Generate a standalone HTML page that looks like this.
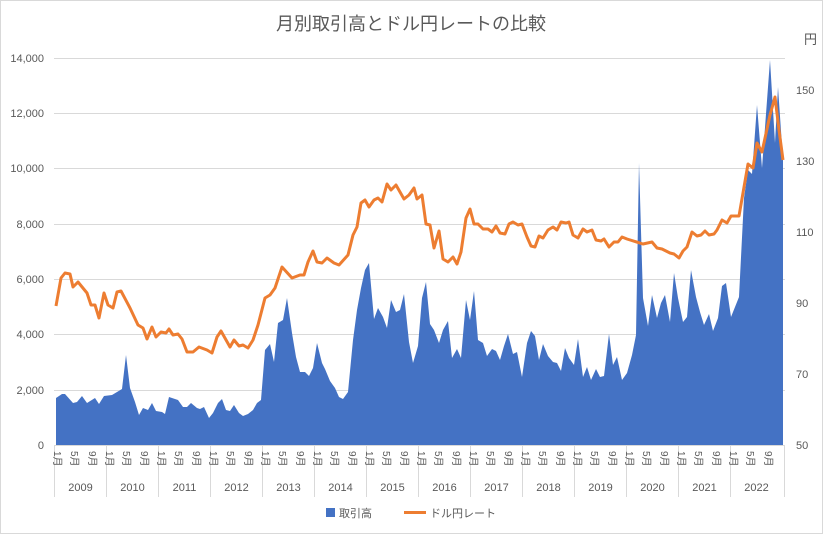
<!DOCTYPE html>
<html><head><meta charset="utf-8"><style>
body{margin:0;background:#fff}
svg text{font-family:"Liberation Sans","Noto Sans CJK JP",sans-serif;fill:#595959}
</style></head><body>
<svg width="823" height="534" viewBox="0 0 823 534" xmlns="http://www.w3.org/2000/svg">
<rect x="0.5" y="0.5" width="822" height="533" fill="#fff" stroke="#d9d9d9"/>
<text x="411" y="30" font-size="18" text-anchor="middle">月別取引高とドル円レートの比較</text>
<g stroke="#d9d9d9" stroke-width="1">
<line x1="54" y1="58.5" x2="785" y2="58.5"/><line x1="54" y1="113.5" x2="785" y2="113.5"/>
<line x1="54" y1="168.5" x2="785" y2="168.5"/><line x1="54" y1="224.5" x2="785" y2="224.5"/>
<line x1="54" y1="279.5" x2="785" y2="279.5"/><line x1="54" y1="334.5" x2="785" y2="334.5"/>
<line x1="54" y1="390.5" x2="785" y2="390.5"/>
</g>
<g font-size="11" text-anchor="end">
<text x="44" y="449">0</text><text x="44" y="394">2,000</text><text x="44" y="338">4,000</text>
<text x="44" y="283">6,000</text><text x="44" y="228">8,000</text><text x="44" y="172">10,000</text>
<text x="44" y="117">12,000</text><text x="44" y="62">14,000</text>
</g>
<g font-size="11">
<text x="796" y="449">50</text><text x="796" y="378">70</text><text x="796" y="307">90</text>
<text x="796" y="236">110</text><text x="796" y="165">130</text><text x="796" y="94">150</text>
<text x="804" y="44" font-size="13">円</text>
</g>
<polygon fill="#4472c4" points="56,445 56,398 62,394 65,394 73,403 77,402 82,396 87,403 95,398 99,404 104,396 112,395 122,389 126,355 130,388 135,402 139,415 143,408 148,410 152,403 156,411 162,412 165,414 169,397 178,400 183,407 187,407 191,403 197,408 200,409 204,407 209,418 213,413 218,403 222,399 226,410 230,411 234,405 239,413 243,416 248,414 253,410 257,403 261,400 265,350 270,344 274,362 278,323 283,320 287,298 292,333 296,357 300,372 305,372 309,376 313,368 317,343 322,363 325,369 330,381 335,388 339,397 343,399 348,392 353,340 357,310 361,288 365,270 369,263 374,319 378,308 383,317 387,328 391,300 396,312 400,310 404,294 409,342 413,363 418,346 422,298 426,282 430,324 434,330 439,343 443,330 448,321 452,358 457,349 461,358 466,300 470,320 474,291 478,340 483,343 487,356 492,349 496,351 500,360 504,346 508,334 513,354 517,352 522,377 527,343 531,331 535,336 539,360 543,344 548,356 553,362 557,363 561,371 565,348 569,358 574,365 578,339 583,377 587,367 591,380 596,369 600,377 604,376 609,334 613,365 617,357 622,380 627,373 632,355 636,335 639,163 643,298 648,326 652,295 657,318 661,303 665,295 670,322 674,273 678,298 683,322 687,317 691,270 696,297 700,312 704,325 709,314 713,331 718,318 722,286 726,283 731,317 739,297 744,198 748,170 752,174 757,105 762,168 770,60 775,143 778,87 783,160 783,445"/>
<polyline fill="none" stroke="#ed7d31" stroke-width="3" stroke-linejoin="round" points="56,306 61,278 65,273 70,274 73,287 78,282 87,293 91,305 95,305 99,318 104,293 108,305 113,308 117,292 121,291 130,308 138,325 143,328 147,339 152,327 156,337 161,332 166,333 169,329 173,335 178,334 182,339 187,352 193,352 199,347 207,350 212,353 217,337 221,331 230,347 234,340 239,346 243,345 248,348 253,340 258,325 265,298 270,295 275,288 282,267 292,278 300,275 304,275 308,262 313,251 317,262 322,263 327,258 334,263 339,265 348,255 353,235 357,227 361,203 365,200 369,207 374,200 378,198 382,202 387,184 391,190 396,185 404,199 409,195 414,188 417,199 422,195 426,224 430,225 434,248 439,231 443,259 448,262 453,257 457,264 461,252 466,218 470,209 474,224 478,224 483,229 488,229 492,232 496,226 500,233 505,234 509,224 513,222 518,225 522,224 527,237 531,246 535,247 539,236 543,238 548,230 553,227 557,230 561,222 566,223 569,222 573,235 578,238 583,229 587,232 592,230 596,240 601,241 604,239 609,247 614,242 618,242 622,237 627,239 643,244 652,242 657,248 662,249 670,253 674,254 679,258 683,251 687,247 692,232 697,236 701,235 705,231 709,235 714,234 717,230 722,220 727,223 731,216 739,216 748,164 753,168 757,143 762,152 770,115 775,97 779,130 783,160"/>
<line x1="54" y1="445.5" x2="785" y2="445.5" stroke="#d9d9d9"/>
<g stroke="#d9d9d9">
<line x1="54.5" y1="445" x2="54.5" y2="497"/><line x1="106.5" y1="445" x2="106.5" y2="497"/>
<line x1="158.5" y1="445" x2="158.5" y2="497"/><line x1="210.5" y1="445" x2="210.5" y2="497"/>
<line x1="262.5" y1="445" x2="262.5" y2="497"/><line x1="314.5" y1="445" x2="314.5" y2="497"/>
<line x1="366.5" y1="445" x2="366.5" y2="497"/><line x1="418.5" y1="445" x2="418.5" y2="497"/>
<line x1="470.5" y1="445" x2="470.5" y2="497"/><line x1="522.5" y1="445" x2="522.5" y2="497"/>
<line x1="574.5" y1="445" x2="574.5" y2="497"/><line x1="626.5" y1="445" x2="626.5" y2="497"/>
<line x1="678.5" y1="445" x2="678.5" y2="497"/><line x1="730.5" y1="445" x2="730.5" y2="497"/>
<line x1="784.5" y1="445" x2="784.5" y2="497"/>
</g>
<g font-size="10" id="m"></g>
<g font-size="11" text-anchor="middle">
<text x="80.5" y="491">2009</text><text x="132.5" y="491">2010</text><text x="184.5" y="491">2011</text>
<text x="236.5" y="491">2012</text><text x="288.5" y="491">2013</text><text x="340.5" y="491">2014</text>
<text x="392.5" y="491">2015</text><text x="444.5" y="491">2016</text><text x="496.5" y="491">2017</text>
<text x="548.5" y="491">2018</text><text x="600.5" y="491">2019</text><text x="652.5" y="491">2020</text>
<text x="704.5" y="491">2021</text><text x="756.5" y="491">2022</text>
</g>
<g font-size="10">
<!-- month labels rotated -->
<g transform="translate(0,0)">
<text transform="translate(54,451) rotate(90)">1月</text><text transform="translate(71,451) rotate(90)">5月</text><text transform="translate(89,451) rotate(90)">9月</text>
<text transform="translate(106,451) rotate(90)">1月</text><text transform="translate(123,451) rotate(90)">5月</text><text transform="translate(141,451) rotate(90)">9月</text>
<text transform="translate(158,451) rotate(90)">1月</text><text transform="translate(175,451) rotate(90)">5月</text><text transform="translate(193,451) rotate(90)">9月</text>
<text transform="translate(210,451) rotate(90)">1月</text><text transform="translate(227,451) rotate(90)">5月</text><text transform="translate(245,451) rotate(90)">9月</text>
<text transform="translate(262,451) rotate(90)">1月</text><text transform="translate(279,451) rotate(90)">5月</text><text transform="translate(297,451) rotate(90)">9月</text>
<text transform="translate(314,451) rotate(90)">1月</text><text transform="translate(331,451) rotate(90)">5月</text><text transform="translate(349,451) rotate(90)">9月</text>
<text transform="translate(366,451) rotate(90)">1月</text><text transform="translate(383,451) rotate(90)">5月</text><text transform="translate(401,451) rotate(90)">9月</text>
<text transform="translate(418,451) rotate(90)">1月</text><text transform="translate(435,451) rotate(90)">5月</text><text transform="translate(453,451) rotate(90)">9月</text>
<text transform="translate(470,451) rotate(90)">1月</text><text transform="translate(487,451) rotate(90)">5月</text><text transform="translate(505,451) rotate(90)">9月</text>
<text transform="translate(522,451) rotate(90)">1月</text><text transform="translate(539,451) rotate(90)">5月</text><text transform="translate(557,451) rotate(90)">9月</text>
<text transform="translate(574,451) rotate(90)">1月</text><text transform="translate(591,451) rotate(90)">5月</text><text transform="translate(609,451) rotate(90)">9月</text>
<text transform="translate(626,451) rotate(90)">1月</text><text transform="translate(643,451) rotate(90)">5月</text><text transform="translate(661,451) rotate(90)">9月</text>
<text transform="translate(678,451) rotate(90)">1月</text><text transform="translate(695,451) rotate(90)">5月</text><text transform="translate(713,451) rotate(90)">9月</text>
<text transform="translate(730,451) rotate(90)">1月</text><text transform="translate(747,451) rotate(90)">5月</text><text transform="translate(765,451) rotate(90)">9月</text>
</g>
</g>
<rect x="326" y="508" width="9" height="9" fill="#4472c4"/>
<text x="339" y="517" font-size="11">取引高</text>
<line x1="404" y1="512.5" x2="426" y2="512.5" stroke="#ed7d31" stroke-width="3"/>
<text x="430" y="517" font-size="11">ドル円レート</text>
</svg>
</body></html>
